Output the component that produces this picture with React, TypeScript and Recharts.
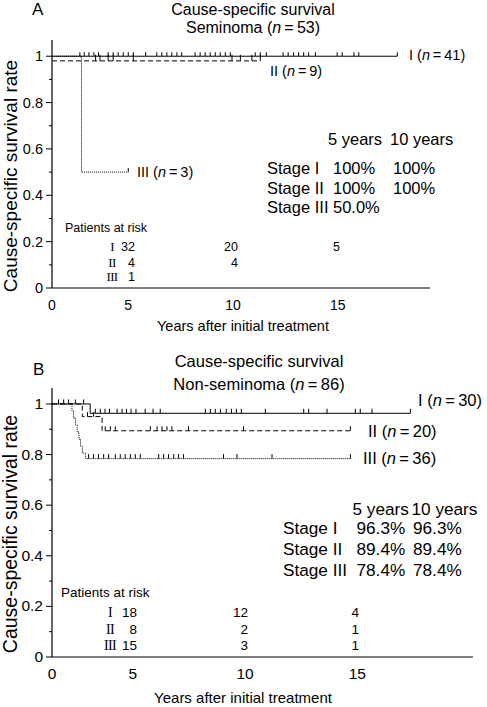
import { LineChart, Line, XAxis, YAxis } from 'recharts';

// [years, survival, censored (1) or event (0)]
type Row = [number, number, number];

const FONT = '"Liberation Sans", Arial, Helvetica, sans-serif';
const SERIF = '"Liberation Serif", "Times New Roman", serif';
const STAGES = ['I', 'II', 'III'];
const Y_TICKS = [0, 0.1, 0.2, 0.3, 0.4, 0.5, 0.6, 0.7, 0.8, 0.9, 1];
const Y_MAJOR = ['0', '0.2', '0.4', '0.6', '0.8', '1'];
const RISK_YEARS = [5, 10, 15];

// ---------- A: seminoma ----------
const A_X_START = 1.36; // axis origin, printed as "0"
const A_X_END = 19.4;
const A_Y_MAX = 1.07;

const semStageI: Row[] = [
  [1.36, 1, 0], [2.69, 1, 1], [2.9, 1, 1], [3.12, 1, 1], [3.36, 1, 1], [3.58, 1, 1], [4.04, 1, 1],
  [4.28, 1, 1], [4.52, 1, 1], [4.76, 1, 1], [5.0, 1, 1], [5.24, 1, 1], [5.83, 1, 1], [6.36, 1, 1],
  [6.6, 1, 1], [6.84, 1, 1], [7.08, 1, 1], [7.32, 1, 1], [7.55, 1, 1], [8.19, 1, 1], [8.43, 1, 1],
  [8.67, 1, 1], [8.91, 1, 1], [9.15, 1, 1], [9.39, 1, 1], [9.63, 1, 1], [9.87, 1, 1], [11.06, 1, 1],
  [11.3, 1, 1], [11.59, 1, 1], [12.39, 1, 1], [12.63, 1, 1], [12.89, 1, 1], [13.13, 1, 1],
  [13.37, 1, 1], [13.61, 1, 1], [13.93, 1, 1], [14.97, 1, 1], [15.21, 1, 1], [15.77, 1, 1],
  [16.0, 1, 1], [17.84, 1, 1],
];
const semStageII: Row[] = [
  [1.36, 0.98, 0], [3.44, 0.98, 1], [3.65, 0.98, 1], [4.04, 0.98, 1], [4.28, 0.98, 1], [5.24, 0.98, 1],
  [9.95, 0.98, 1], [10.35, 0.98, 1], [10.9, 0.98, 1], [11.3, 0.98, 1],
];
const semStageIII: Row[] = [[1.36, 1, 0], [2.77, 0.5, 0], [5.0, 0.5, 1]];

const semN = [41, 9, 3];
const semRate5 = ['100%', '100%', '50.0%'];
const semRate10 = ['100%', '100%', ''];
const semRiskI = [32, 20, 5];
const semRiskII = [4, 4, null];
const semRiskIII = [1, null, null];

// ---------- B: non-seminoma ----------
const B_X_START = 1.4;
const B_X_END = 20.15;
const B_Y_MAX = 1.063;

const nonStageI: Row[] = [
  [1.4, 1, 0], [1.69, 1, 1], [1.92, 1, 1], [2.14, 1, 1], [2.44, 1, 1], [2.81, 1, 1], [3.1, 0.963, 0],
  [3.33, 0.963, 1], [3.55, 0.963, 1], [3.76, 0.963, 1], [3.96, 0.963, 1], [4.3, 0.963, 1],
  [4.52, 0.963, 1], [4.72, 0.963, 1], [4.92, 0.963, 1], [5.14, 0.963, 1], [5.55, 0.963, 1],
  [5.9, 0.963, 1], [6.22, 0.963, 1], [8.23, 0.963, 1], [8.45, 0.963, 1], [8.67, 0.963, 1],
  [8.9, 0.963, 1], [9.16, 0.963, 1], [9.39, 0.963, 1], [9.61, 0.963, 1], [9.83, 0.963, 1],
  [10.9, 0.963, 1], [12.61, 0.963, 1], [12.83, 0.963, 1], [13.65, 0.963, 1], [14.91, 0.963, 1],
  [15.13, 0.963, 1], [15.65, 0.963, 1], [17.36, 0.963, 1],
];
const nonStageII: Row[] = [
  [1.4, 1, 0], [2.75, 0.95, 0], [2.98, 0.95, 1], [3.25, 0.95, 1], [3.63, 0.894, 0], [3.77, 0.894, 1],
  [4.0, 0.894, 1], [4.22, 0.894, 1], [5.78, 0.894, 1], [6.08, 0.894, 1], [6.3, 0.894, 1],
  [6.52, 0.894, 1], [6.74, 0.894, 1], [7.48, 0.894, 1], [9.93, 0.894, 1], [14.69, 0.894, 1],
];
const nonStageIII: Row[] = [
  [1.4, 1, 0], [2.29, 0.972, 0], [2.36, 0.944, 0], [2.45, 0.917, 0], [2.52, 0.889, 0],
  [2.6, 0.861, 0], [2.67, 0.833, 0], [2.75, 0.806, 0], [2.9, 0.784, 0], [3.03, 0.784, 1],
  [3.25, 0.784, 1], [3.47, 0.784, 1], [3.7, 0.784, 1], [3.92, 0.784, 1], [4.22, 0.784, 1],
  [4.44, 0.784, 1], [4.66, 0.784, 1], [4.89, 0.784, 1], [5.11, 0.784, 1], [5.33, 0.784, 1],
  [6.15, 0.784, 1], [6.37, 0.784, 1], [6.59, 0.784, 1], [6.82, 0.784, 1], [7.04, 0.784, 1],
  [7.26, 0.784, 1], [9.04, 0.784, 1], [9.64, 0.784, 1], [11.2, 0.784, 1], [14.69, 0.784, 1],
];

const nonN = [30, 20, 36];
const nonRate5 = ['96.3%', '89.4%', '78.4%'];
const nonRate10 = ['96.3%', '89.4%', '78.4%'];
const nonRiskI = [18, 12, 4];
const nonRiskII = [8, 2, 1];
const nonRiskIII = [15, 3, 1];

const toPoints = (rows: Row[]) => rows.map(([t, s, c]) => ({ t, s, c }));

const censorDot = (len: number) => (props: any) => {
  const { cx, cy, payload, index } = props;
  if (!payload || !payload.c || cx == null || cy == null) return <g key={`n-${index}`} />;
  return <line key={`c-${index}`} x1={cx} x2={cx} y1={cy} y2={cy - len} stroke="#000" strokeWidth={1} />;
};

interface Series {
  rows: Row[];
  dash?: string;
  tick: number;
}

interface Layout {
  top: number;
  height: number;
  marginTop: number;
  marginRight: number;
  xAxisHeight: number;
  xStart: number;
  xEnd: number;
  yMax: number;
  xTickSize: number;
  yTickSize: number;
  letter: string;
  letterPos: [number, number];
  letterSize: number;
  subtitle: string;
  n: number;
  titleX: number;
  titleY: [number, number];
  titleSize: number;
  yLabelPos: [number, number];
  yLabelSize: number;
  xLabelPos: [number, number];
  xLabelSize: number;
  stageLabelPos: [number, number][];
  stageSize: number;
  statHeadY: number;
  statHeadX: [number, number];
  statRowY: number[];
  statColX: [number, number, number];
  statSize: number;
  riskTitlePos: [number, number];
  riskRowY: number[];
  riskNumeralX: number;
  riskColRight: number[];
  riskSize: number;
}

function Panel({
  layout, series, stageN, rate5, rate10, risk,
}: {
  layout: Layout;
  series: Series[];
  stageN: number[];
  rate5: string[];
  rate10: string[];
  risk: (number | null)[][];
}) {
  const L = layout;
  const xTicks = [L.xStart, ...RISK_YEARS];
  return (
    <div style={{ position: 'absolute', left: 0, top: L.top, width: 487, height: L.height }}>
      <LineChart
        width={487}
        height={L.height}
        margin={{ top: L.marginTop, right: L.marginRight, bottom: 0, left: 0 }}
      >
        <XAxis
          dataKey="t"
          type="number"
          domain={[L.xStart, L.xEnd]}
          ticks={xTicks}
          allowDataOverflow
          height={L.xAxisHeight}
          axisLine={{ stroke: '#000', strokeWidth: 1.2 }}
          tickLine={false}
          tickSize={0}
          tickMargin={0}
          tick={(p: any) => (
            <text
              key={`xt-${p.index}`}
              x={p.x}
              y={p.y + 22}
              textAnchor="middle"
              fontSize={L.xTickSize}
              fontFamily={FONT}
              fill="#000"
            >
              {p.payload.value === L.xStart ? '0' : p.payload.value}
            </text>
          )}
        />
        <YAxis
          type="number"
          domain={[0, L.yMax]}
          ticks={Y_TICKS}
          allowDataOverflow
          width={52}
          axisLine={{ stroke: '#000', strokeWidth: 1.2 }}
          tickLine={false}
          tickSize={0}
          tickMargin={0}
          interval={0}
          tick={(p: any) => {
            const label = String(Math.round(p.payload.value * 10) / 10);
            const major = Y_MAJOR.includes(label);
            return (
              <g key={`yt-${p.index}`}>
                <line x1={p.x - (major ? 6 : 3)} x2={p.x} y1={p.y} y2={p.y} stroke="#000" strokeWidth={1} />
                {major && (
                  <text
                    x={p.x - 9}
                    y={p.y + 5}
                    textAnchor="end"
                    fontSize={L.yTickSize}
                    fontFamily={FONT}
                    fill="#000"
                  >
                    {label}
                  </text>
                )}
              </g>
            );
          }}
        />
        {series
          .slice()
          .reverse()
          .map((s, i) => (
            <Line
              key={i}
              data={toPoints(s.rows)}
              dataKey="s"
              type="stepAfter"
              stroke="#000"
              strokeWidth={1}
              strokeDasharray={s.dash}
              dot={censorDot(s.tick)}
              activeDot={false}
              isAnimationActive={false}
            />
          ))}
      </LineChart>
      <svg
        width={487}
        height={L.height}
        style={{ position: 'absolute', left: 0, top: 0, pointerEvents: 'none' }}
        fontFamily={FONT}
        fill="#000"
      >
        <text x={L.letterPos[0]} y={L.letterPos[1]} fontSize={L.letterSize}>{L.letter}</text>
        <text x={L.titleX} y={L.titleY[0]} fontSize={L.titleSize} textAnchor="middle">
          Cause-specific survival
        </text>
        <text x={L.titleX} y={L.titleY[1]} fontSize={L.titleSize} textAnchor="middle">
          {L.subtitle} (<tspan fontStyle="italic">n</tspan>{'\u2009=\u2009'}{L.n})
        </text>
        <text
          transform={`translate(${L.yLabelPos[0]}, ${L.yLabelPos[1]}) rotate(-90)`}
          fontSize={L.yLabelSize}
          textAnchor="middle"
        >
          Cause-specific survival rate
        </text>
        <text x={L.xLabelPos[0]} y={L.xLabelPos[1]} fontSize={L.xLabelSize} textAnchor="middle">
          Years after initial treatment
        </text>
        {STAGES.map((st, i) => (
          <text key={st} x={L.stageLabelPos[i][0]} y={L.stageLabelPos[i][1]} fontSize={L.stageSize}>
            {st} (<tspan fontStyle="italic">n</tspan>{'\u2009=\u2009'}{stageN[i]})
          </text>
        ))}
        <text x={L.statHeadX[0]} y={L.statHeadY} fontSize={L.statSize}>5 years</text>
        <text x={L.statHeadX[1]} y={L.statHeadY} fontSize={L.statSize}>10 years</text>
        {STAGES.map((st, i) => (
          <g key={`r-${st}`} fontSize={L.statSize}>
            <text x={L.statColX[0]} y={L.statRowY[i]}>Stage {st}</text>
            <text x={L.statColX[1]} y={L.statRowY[i]}>{rate5[i]}</text>
            <text x={L.statColX[2]} y={L.statRowY[i]}>{rate10[i]}</text>
          </g>
        ))}
        <text x={L.riskTitlePos[0]} y={L.riskTitlePos[1]} fontSize={L.riskSize}>Patients at risk</text>
        {STAGES.map((st, i) => (
          <g key={`k-${i}`} fontSize={L.riskSize}>
            <text
              x={L.riskNumeralX}
              y={L.riskRowY[i]}
              textAnchor="middle"
              fontFamily={SERIF}
              fontSize={L.riskSize + 0.5}
              letterSpacing={-0.6}
            >
              {st}
            </text>
            {risk[i].map((v, j) =>
              v == null ? null : (
                <text key={j} x={L.riskColRight[j]} y={L.riskRowY[i]} textAnchor="end">
                  {v}
                </text>
              ),
            )}
          </g>
        ))}
      </svg>
    </div>
  );
}

const layoutA: Layout = {
  top: 0,
  height: 340,
  marginTop: 40,
  marginRight: 57,
  xAxisHeight: 52,
  xStart: A_X_START,
  xEnd: A_X_END,
  yMax: A_Y_MAX,
  xTickSize: 14,
  yTickSize: 14.5,
  letter: 'A',
  letterPos: [32, 15],
  letterSize: 17,
  subtitle: 'Seminoma',
  n: 53,
  titleX: 253,
  titleY: [14.5, 33],
  titleSize: 16,
  yLabelPos: [16.5, 176],
  yLabelSize: 19,
  xLabelPos: [243, 331],
  xLabelSize: 14.5,
  stageLabelPos: [[409, 60], [270, 76], [137, 177]],
  stageSize: 14.5,
  statHeadY: 145,
  statHeadX: [328, 390],
  statRowY: [174, 193.5, 213],
  statColX: [267, 333, 393],
  statSize: 16.5,
  riskTitlePos: [65, 232],
  riskRowY: [251, 266.5, 281],
  riskNumeralX: 112,
  riskColRight: [135, 238, 340],
  riskSize: 12.5,
};

const layoutB: Layout = {
  top: 340,
  height: 367,
  marginTop: 48,
  marginRight: 14,
  xAxisHeight: 50,
  xStart: B_X_START,
  xEnd: B_X_END,
  yMax: B_Y_MAX,
  xTickSize: 15.5,
  yTickSize: 15.5,
  letter: 'B',
  letterPos: [33, 35],
  letterSize: 17,
  subtitle: 'Non-seminoma',
  n: 86,
  titleX: 259,
  titleY: [27, 50],
  titleSize: 16.5,
  yLabelPos: [16.5, 194],
  yLabelSize: 19.5,
  xLabelPos: [243, 363],
  xLabelSize: 15,
  stageLabelPos: [[418, 66], [368, 97], [363, 124]],
  stageSize: 16.5,
  statHeadY: 175,
  statHeadX: [352.5, 411.5],
  statRowY: [194, 215, 236],
  statColX: [283, 356.5, 413],
  statSize: 17.2,
  riskTitlePos: [61, 257],
  riskRowY: [277, 294, 310],
  riskNumeralX: 110,
  riskColRight: [137, 248, 359],
  riskSize: 13.5,
};

export default function App() {
  return (
    <div style={{ position: 'absolute', left: 0, top: 0, width: 487, height: 707, background: '#fff', fontFamily: FONT }}>
      <Panel
        layout={layoutA}
        series={[
          { rows: semStageI, tick: 4 },
          { rows: semStageII, dash: '5 3', tick: 6 },
          { rows: semStageIII, dash: '1 1', tick: 4 },
        ]}
        stageN={semN}
        rate5={semRate5}
        rate10={semRate10}
        risk={[semRiskI, semRiskII, semRiskIII]}
      />
      <Panel
        layout={layoutB}
        series={[
          { rows: nonStageI, tick: 4.5 },
          { rows: nonStageII, dash: '5 3', tick: 4.5 },
          { rows: nonStageIII, dash: '1 1', tick: 4.5 },
        ]}
        stageN={nonN}
        rate5={nonRate5}
        rate10={nonRate10}
        risk={[nonRiskI, nonRiskII, nonRiskIII]}
      />
    </div>
  );
}
